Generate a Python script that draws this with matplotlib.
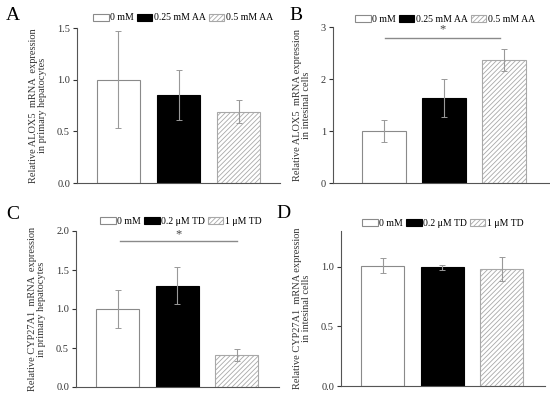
import matplotlib.pyplot as plt
import numpy as np

plt.rcParams['font.family'] = ['Liberation Serif', 'DejaVu Serif']
plt.rcParams['hatch.linewidth'] = 0.6

# panel A
a_labels = ['0 mM', '0.25 mM AA', '0.5 mM AA']
a_values = [1.0, 0.85, 0.69]
a_errors = [0.47, 0.24, 0.11]

# panel B
b_labels = ['0 mM', '0.25 mM AA', '0.5 mM AA']
b_values = [1.0, 1.63, 2.37]
b_errors = [0.22, 0.37, 0.21]

# panel C
c_labels = ['0 mM', '0.2 μM TD', '1 μM TD']
c_values = [1.0, 1.30, 0.41]
c_errors = [0.24, 0.24, 0.08]

# panel D
d_labels = ['0 mM', '0.2 μM TD', '1 μM TD']
d_values = [1.01, 0.995, 0.98]
d_errors = [0.06, 0.02, 0.10]

W, H = 550, 398
fig = plt.figure(figsize=(5.5, 3.98), dpi=100)

def box(l, r, top, bottom):
    return [l / W, (H - bottom) / H, (r - l) / W, (bottom - top) / H]

edge = '#8a8a8a'


def panel(rect, letter, letter_xy, labels, values, errors, ylim, yticks,
          ylabel, xlim, width, legend_xy, sig=None):
    ax = fig.add_axes(rect)
    x = np.arange(len(values))
    styles = [dict(color='white', edgecolor=edge),
              dict(color='black', edgecolor='black'),
              dict(color='white', edgecolor='#a8a8a8', hatch='///////')]
    handles = []
    for i in range(len(values)):
        b = ax.bar(x[i], values[i], width=width, linewidth=0.8,
                   label=labels[i], zorder=2, **styles[i])
        handles.append(b)
    ax.errorbar(x, values, yerr=errors, fmt='none', ecolor='#999999',
                elinewidth=0.8, capsize=2, capthick=0.7, zorder=3)
    ax.set_xlim(*xlim)
    ax.set_ylim(*ylim)
    ax.set_yticks(yticks)
    if max(yticks) >= 3:
        ax.set_yticklabels([f'{t:.0f}' for t in yticks])
    else:
        ax.set_yticklabels([f'{t:.1f}' for t in yticks])
    ax.set_xticks([])
    for s in ['top', 'right']:
        ax.spines[s].set_visible(False)
    ax.spines['left'].set_color('#555555')
    ax.spines['bottom'].set_color('#555555')
    ax.tick_params(axis='y', direction='out', length=3, width=0.8,
                   labelsize=7.5, colors='#333333', pad=2)
    ax.set_ylabel(ylabel, fontsize=7.5, color='#333333', labelpad=7,
                  linespacing=1.1)
    if sig is not None:
        x0, x1, yl, ys = sig
        ax.plot([x0, x1], [yl, yl], color='#8a8a8a', lw=1, clip_on=False)
        ax.text((x0 + x1) / 2, ys, '*', ha='center', va='center',
                fontsize=9, color='#444444')
    fig.legend(handles=handles, loc='center',
               bbox_to_anchor=(legend_xy[0] / W, 1 - legend_xy[1] / H),
               ncol=3, frameon=False, fontsize=7, handlelength=1.6,
               handleheight=0.75, handletextpad=0.15, columnspacing=0.3,
               borderpad=0)
    fig.text(letter_xy[0] / W, 1 - letter_xy[1] / H, letter, fontsize=14,
             ha='center', va='center')
    return ax


panel(box(77, 280, 28, 183), 'A', (13, 15), a_labels, a_values, a_errors,
      (0, 1.5), [0.0, 0.5, 1.0, 1.5],
      'Relative ALOX5  mRNA  expression\nin primary hepatocytes',
      (-0.69, 2.69), 0.72, (183, 18))

panel(box(333, 550, 27, 183), 'B', (296, 15), b_labels, b_values, b_errors,
      (0, 3), [0, 1, 2, 3],
      'Relative ALOX5  mRNA expression\nin intesinal cells',
      (-0.85, 2.76), 0.73, (445, 19), sig=(0.02, 1.93, 2.79, 2.96))

panel(box(76, 279, 231, 387), 'C', (13, 215), c_labels, c_values, c_errors,
      (0, 2.0), [0.0, 0.5, 1.0, 1.5, 2.0],
      'Relative CYP27A1  mRNA  expression\nin primary hepatocytes',
      (-0.70, 2.71), 0.72, (181, 221), sig=(0.04, 2.0, 1.87, 1.96))

panel(box(341, 545, 231, 386), 'D', (283, 214), d_labels, d_values, d_errors,
      (0, 1.3), [0.0, 0.5, 1.0],
      'Relative CYP27A1  mRNA expression\nin intesinal cells',
      (-0.70, 2.73), 0.72, (443, 223))

fig.savefig('out.png', dpi=100)
